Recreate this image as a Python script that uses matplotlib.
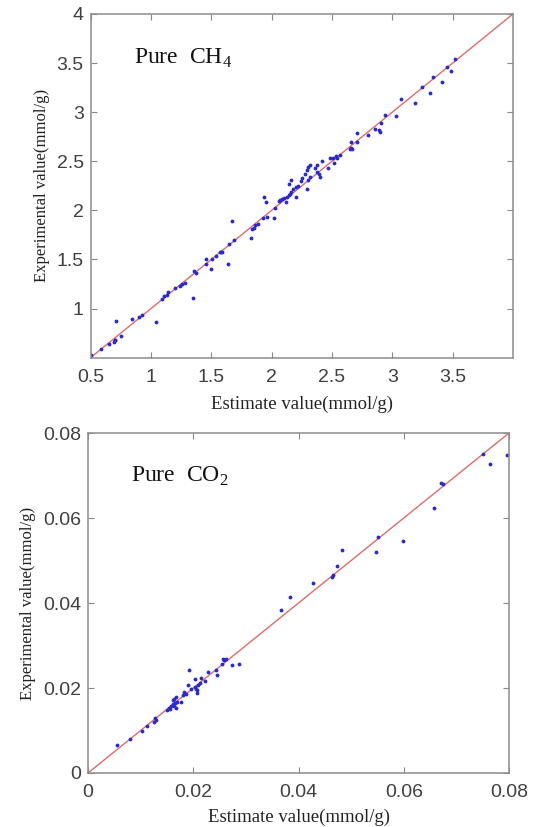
import matplotlib
matplotlib.use("Agg")
import matplotlib.pyplot as plt

# Pure CH4: estimate vs experimental (mmol/g)
ch4_est = [0.506, 0.59, 0.65, 0.69, 0.70, 0.705, 0.71, 0.75, 0.84, 0.90, 0.93, 1.04,
           1.09, 1.11, 1.13, 1.14, 1.20, 1.24, 1.26, 1.28, 1.35, 1.36, 1.37, 1.46,
           1.46, 1.50, 1.51, 1.54, 1.57, 1.58, 1.59, 1.64, 1.65, 1.69, 1.67, 1.83,
           1.84, 1.85, 1.86, 1.89, 1.93, 1.96, 1.94, 1.95, 2.02, 2.03, 2.06, 2.07,
           2.09, 2.10, 2.12, 2.13, 2.145, 2.15, 2.16, 2.14, 2.16, 2.20, 2.18, 2.20,
           2.22, 2.24, 2.25, 2.29, 2.275, 2.29, 2.30, 2.32, 2.30, 2.32, 2.36, 2.38,
           2.39, 2.405, 2.38, 2.42, 2.47, 2.48, 2.51, 2.53, 2.54, 2.565, 2.515, 2.65,
           2.66, 2.67, 2.66, 2.71, 2.71, 2.80, 2.855, 2.89, 2.90, 2.91, 2.94, 3.03,
           3.07, 3.19, 3.25, 3.31, 3.34, 3.415, 3.45, 3.49, 3.52]
ch4_exp = [0.53, 0.59, 0.64, 0.66, 0.675, 0.685, 0.87, 0.72, 0.89, 0.91, 0.93, 0.86,
           1.10, 1.13, 1.135, 1.17, 1.21, 1.23, 1.25, 1.26, 1.11, 1.38, 1.365, 1.45,
           1.50, 1.40, 1.50, 1.54, 1.58, 1.58, 1.58, 1.45, 1.66, 1.70, 1.89, 1.72,
           1.81, 1.82, 1.85, 1.86, 1.92, 1.93, 2.14, 2.09, 1.92, 2.02, 2.10, 2.11,
           2.12, 2.13, 2.09, 2.14, 2.16, 2.17, 2.19, 2.27, 2.31, 2.14, 2.22, 2.24,
           2.25, 2.30, 2.33, 2.22, 2.37, 2.41, 2.44, 2.46, 2.31, 2.34, 2.43, 2.39,
           2.37, 2.34, 2.46, 2.50, 2.43, 2.53, 2.53, 2.55, 2.53, 2.56, 2.48, 2.62,
           2.635, 2.63, 2.70, 2.70, 2.79, 2.77, 2.83, 2.82, 2.80, 2.89, 2.97, 2.96,
           3.13, 3.09, 3.26, 3.20, 3.36, 3.31, 3.46, 3.42, 3.54]

# Pure CO2
co2_est = [0.0056, 0.0079, 0.0102, 0.0112, 0.0126, 0.0129, 0.0128, 0.0150, 0.0153,
           0.0155, 0.0158, 0.0161, 0.0163, 0.0166, 0.0168, 0.0169, 0.0161, 0.0163,
           0.0167, 0.0176, 0.0180, 0.0183, 0.0187, 0.0192, 0.0190, 0.0196, 0.0203,
           0.0204, 0.0206, 0.0208, 0.0209, 0.0207, 0.0212, 0.0215, 0.0223, 0.0228,
           0.0246, 0.0244, 0.0254, 0.0256, 0.0259, 0.0263, 0.0274, 0.0286,
           0.0367, 0.0384, 0.0428, 0.0464, 0.0466, 0.0473, 0.0483, 0.0547, 0.0552,
           0.0599, 0.0657, 0.0671, 0.0675, 0.0750, 0.0764, 0.0797]
co2_exp = [0.0067, 0.0079, 0.0098, 0.0110, 0.0120, 0.0125, 0.0129, 0.0149, 0.0154,
           0.0151, 0.0158, 0.0163, 0.0157, 0.0165, 0.0154, 0.0167, 0.0171, 0.0175,
           0.0179, 0.0167, 0.0183, 0.0191, 0.0187, 0.0242, 0.0206, 0.0198, 0.0222,
           0.0202, 0.0198, 0.0195, 0.0206, 0.0188, 0.0211, 0.0224, 0.0216, 0.0238,
           0.0230, 0.0243, 0.0257, 0.0269, 0.0267, 0.0268, 0.0255, 0.0256,
           0.0383, 0.0413, 0.0446, 0.0461, 0.0465, 0.0488, 0.0525, 0.0520, 0.0555,
           0.0547, 0.0624, 0.0682, 0.0680, 0.0751, 0.0726, 0.0749]

ch4_xticks = [0.5, 1, 1.5, 2, 2.5, 3, 3.5]
ch4_xlabels = ["0.5", "1", "1.5", "2", "2.5", "3", "3.5"]
ch4_yticks = [1, 1.5, 2, 2.5, 3, 3.5, 4]
ch4_ylabels = ["1", "1.5", "2", "2.5", "3", "3.5", "4"]
co2_ticks = [0, 0.02, 0.04, 0.06, 0.08]
co2_labels = ["0", "0.02", "0.04", "0.06", "0.08"]

config = {"font.family": "Liberation Sans",
          "mathtext.fontset": "custom",
          "mathtext.rm": "Liberation Serif"}
plt.rcParams.update(config)

fig = plt.figure(figsize=(5.38, 8.27), dpi=100)
ax1 = fig.add_axes([0.1684, 0.5675, 0.7851, 0.4156])
ax2 = fig.add_axes([0.1636, 0.0653, 0.7825, 0.4111])

panels = [
    (ax1, ch4_est, ch4_exp, (0.5, 4), ch4_xticks, ch4_xlabels, ch4_yticks, ch4_ylabels,
     "Pure  CH$_\\mathrm{4}$", -0.115, -0.135),
    (ax2, co2_est, co2_exp, (0, 0.08), co2_ticks, co2_labels, co2_ticks, co2_labels,
     "Pure  CO$_\\mathrm{2}$", -0.142, -0.129),
]

for ax, xs, ys, lim, xt, xl, yt, yl, name, ylx, xly in panels:
    ax.plot(lim, lim, color="#e26a6a", lw=1.0, zorder=1)
    ax.plot(xs, ys, ".", color="#2a2ad4", ms=3.5, zorder=2)
    ax.set_xlim(lim)
    ax.set_ylim(lim)
    ax.set_xticks(xt)
    ax.set_xticklabels(xl)
    ax.set_yticks(yt)
    ax.set_yticklabels(yl)
    ax.tick_params(direction="in", top=True, right=True, length=4, width=0.8,
                   color="#888888", labelcolor="#404040", labelsize=14)
    ax.tick_params(axis="x", pad=8)
    ax.tick_params(axis="y", pad=5)
    for s in ax.spines.values():
        s.set_color("#8c8c8c")
        s.set_linewidth(1.1)
    ax.set_xlabel("Estimate value(mmol/g)", family="Liberation Serif",
                  fontsize=13.5, color="#222222", va="center")
    ax.set_ylabel("Experimental value(mmol/g)", family="Liberation Serif",
                  fontsize=12, color="#222222", va="center")
    ax.xaxis.set_label_coords(0.5, xly)
    ax.yaxis.set_label_coords(ylx, 0.5)
    ax.text(0.103, 0.872, name, transform=ax.transAxes, family="Liberation Serif",
            fontsize=17, color="#111111", va="center")

plt.savefig("out.png", dpi=100)
